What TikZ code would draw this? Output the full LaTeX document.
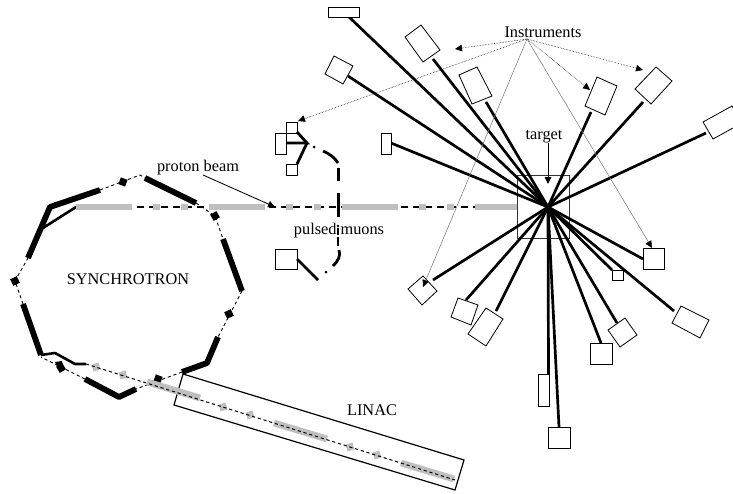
\documentclass[tikz,border=0pt]{standalone}
\usepackage{fontspec}
\setmainfont{Liberation Serif}
\usetikzlibrary{arrows.meta}
\tikzset{
  x=1pt,y=-1pt,
  label text/.style={inner sep=0pt,font=\fontsize{16.3}{18}\selectfont},
  instrument/.style={draw=black,line width=.8pt,fill=white,line join=miter},
  ray/.style={line width=2.7pt,black},
  magnet/.style={line width=5.8pt,black,line join=round},
  thinmagnet/.style={line width=2.6pt,black,line join=round},
  ringline/.style={line width=.9pt,dash pattern=on 3.2pt off 2.8pt},
  beamline/.style={line width=1.5pt,dash pattern=on 7pt off 5pt},
  linacline/.style={line width=1pt,dash pattern=on 3.2pt off 2.8pt},
  graybar/.style={line width=6.8pt,draw=black!25},
  muon/.style={line width=2.8pt,black},
  callout/.style={line width=.55pt,densely dotted,-{Triangle[length=7pt,width=6.5pt]}},
  faint/.style={line width=.5pt,black!55,-{Triangle[length=7pt,width=6.5pt,black]}},
  pointer/.style={line width=.9pt,-{Triangle[length=7pt,width=6.5pt]}},
  bead/.style={fill=black},
  graybead/.style={fill=black!25},
}
\begin{document}
\begin{tikzpicture}
\useasboundingbox (0,0) rectangle (733,493);
\coordinate (T) at (548,207);
\coordinate (I) at (527,39);

% linac housing
\draw[line width=1.2pt] (183,374) -- (464,460) -- (455,490) -- (174,405) -- cycle;

% ring dashed line
\draw[ringline] (100,190) -- (140,175) -- (145,178);
\draw[ringline] (196,203) -- (215,216) -- (223,239);
\draw[ringline] (242,291) -- (218,337);
\draw[ringline] (182,372) -- (136,389);
\draw[ringline] (85,379) -- (41,357);
\draw[ringline] (23,304) -- (15,281) -- (28,258);

% ring blocks
\foreach \x/\y/\a in {123/182/-20,215/216/30,229/314/25,158/379/-20,61/368/30,15/281/25}
  \fill[bead,rotate around={\a:(\x,\y)}] (\x-3.6,\y-3.6) rectangle (\x+3.6,\y+3.6);
\fill[bead] (55,362) -- (62,361) -- (63,366) -- (57,366) -- cycle;

% ring magnets
\draw[magnet] (100,190) -- (50,207) -- (28,258);
\draw[magnet] (145,178) -- (196,203);
\draw[magnet] (223,239) -- (242,291);
\draw[magnet] (218,337) -- (207,363) -- (182,372);
\draw[magnet] (85,379) -- (119,397) -- (136,389);
\draw[magnet] (23,304) -- (41,355);
\draw[thinmagnet] (41,355) -- (55,353) -- (75,364) -- (86,364);
\draw[thinmagnet] (43,228) -- (76,207);

% proton beam
\draw[beamline] (137,207) -- (475,207);
\foreach \a/\b in {76/132,153/160,181/188,209/265,286/293,314/321,342/398,419/426,447/454,475/517}
  \draw[graybar] (\a,207) -- (\b,207);

% linac beam
\draw[graybar] (147,382) -- (200,398);
\draw[graybar] (274,423) -- (327,439);
\draw[graybar] (401,463) -- (454,479);
\foreach \x/\y in {96/367,123/375,223/407,250/415,350/447,377/455}
  \fill[graybead,rotate around={17:(\x,\y)}] (\x-3.6,\y-3.6) rectangle (\x+3.6,\y+3.6);
\draw[linacline] (86,364) -- (455,480);

% target
\draw[line width=.9pt,black!80] (517,175) rectangle (569,238);

% rays
\foreach \x/\y in {349/17,433/59,348/76,486/102,391/143,591/112,643/102,706/133,
  433/280,466/300,496/311,548.5/374,559/427,601/343,617/323,674/311,612/270,643/259}
  \draw[ray] (T) -- (\x,\y);

% instruments
\draw[instrument] (328,7) rectangle (359,17);
\draw[instrument] (405,37) -- (421,25) -- (440,50) -- (423,62) -- cycle;
\draw[instrument] (325,74) -- (334,56) -- (353,66) -- (343,84) -- cycle;
\draw[instrument] (459,75) -- (477,67) -- (492,96) -- (472,104) -- cycle;
\draw[instrument] (381,133) rectangle (391,154);
\draw[instrument] (597,77) -- (617,86) -- (605,115) -- (585,106) -- cycle;
\draw[instrument] (656,67) -- (672,81) -- (651,104) -- (635,89) -- cycle;
\draw[instrument] (703,122) -- (732,106) -- (742,123) -- (713,139) -- cycle;
\draw[instrument] (423,276) -- (437,291) -- (422,305) -- (408,289) -- cycle;
\draw[instrument] (458,298) -- (478,305) -- (471,325) -- (451,317) -- cycle;
\draw[instrument] (486,308) -- (503,319) -- (486,346) -- (468,334) -- cycle;
\draw[instrument] (538,374) rectangle (549,406);
\draw[instrument] (548,427) rectangle (570,448);
\draw[instrument] (590,343) rectangle (612,364);
\draw[instrument] (625,318) -- (637,335) -- (620,347) -- (608,330) -- cycle;
\draw[instrument] (681,306) -- (709,320) -- (700,338) -- (672,323) -- cycle;
\draw[instrument] (612,270) rectangle (623,280);
\draw[instrument] (643,248) rectangle (664,269);

% muon instruments
\draw[instrument] (275,133) rectangle (286,154);
\draw[instrument] (286,122) rectangle (297,133);
\draw[instrument] (286,164) rectangle (297,175);
\draw[instrument] (275,249) rectangle (297,269);

% muon lines
\draw[muon] (297,132) -- (307,143) -- (286,143);
\draw[muon] (297,164) -- (307,143);
\fill (314,147) circle (1.5);
\draw[muon] (323,151) .. controls (330,154) and (335,158) .. (338,163);
\draw[muon,line width=3pt] (338,168) -- (338,181);
\draw[muon,line width=3pt] (338,193) -- (338,217);
\fill (338,226) circle (1.3);
\draw[muon] (338,228) -- (338,235);
\draw[muon] (338,237) -- (338,246);
\draw[muon] (339,250) .. controls (341,256) and (338,261) .. (333,266);
\fill (326,272) circle (1.5);
\draw[muon] (297,259) -- (318,280);

% labels
\node[label text] (proton) at (198,168) {proton beam};
\node[label text] (pulsed) at (339,231) {pulsed muons};
\node[label text] (synch) at (128,279) {SYNCHROTRON};
\node[label text] (linac) at (372,410) {LINAC};
\node[label text] (instr) at (543,32) {Instruments};
\node[label text] (targ) at (544,137) {target};

\coordinate (Pstart) at (203,175);
\coordinate (Pend) at (275,207);
\draw[pointer] (Pstart) -- (Pend);
\coordinate (Tstart) at (548,143);
\coordinate (Tend) at (548,184);
\draw[pointer] (Tstart) -- (Tend);

% callouts
\draw[callout] (I) -- (455,49);
\draw[callout] (I) -- (298,121);
\draw[callout] (I) -- (643,70);
\draw[callout] (I) -- (590,90);
\draw[faint] (I) -- (423,287);
\draw[faint] (I) -- (652,248);
\end{tikzpicture}
\end{document}
